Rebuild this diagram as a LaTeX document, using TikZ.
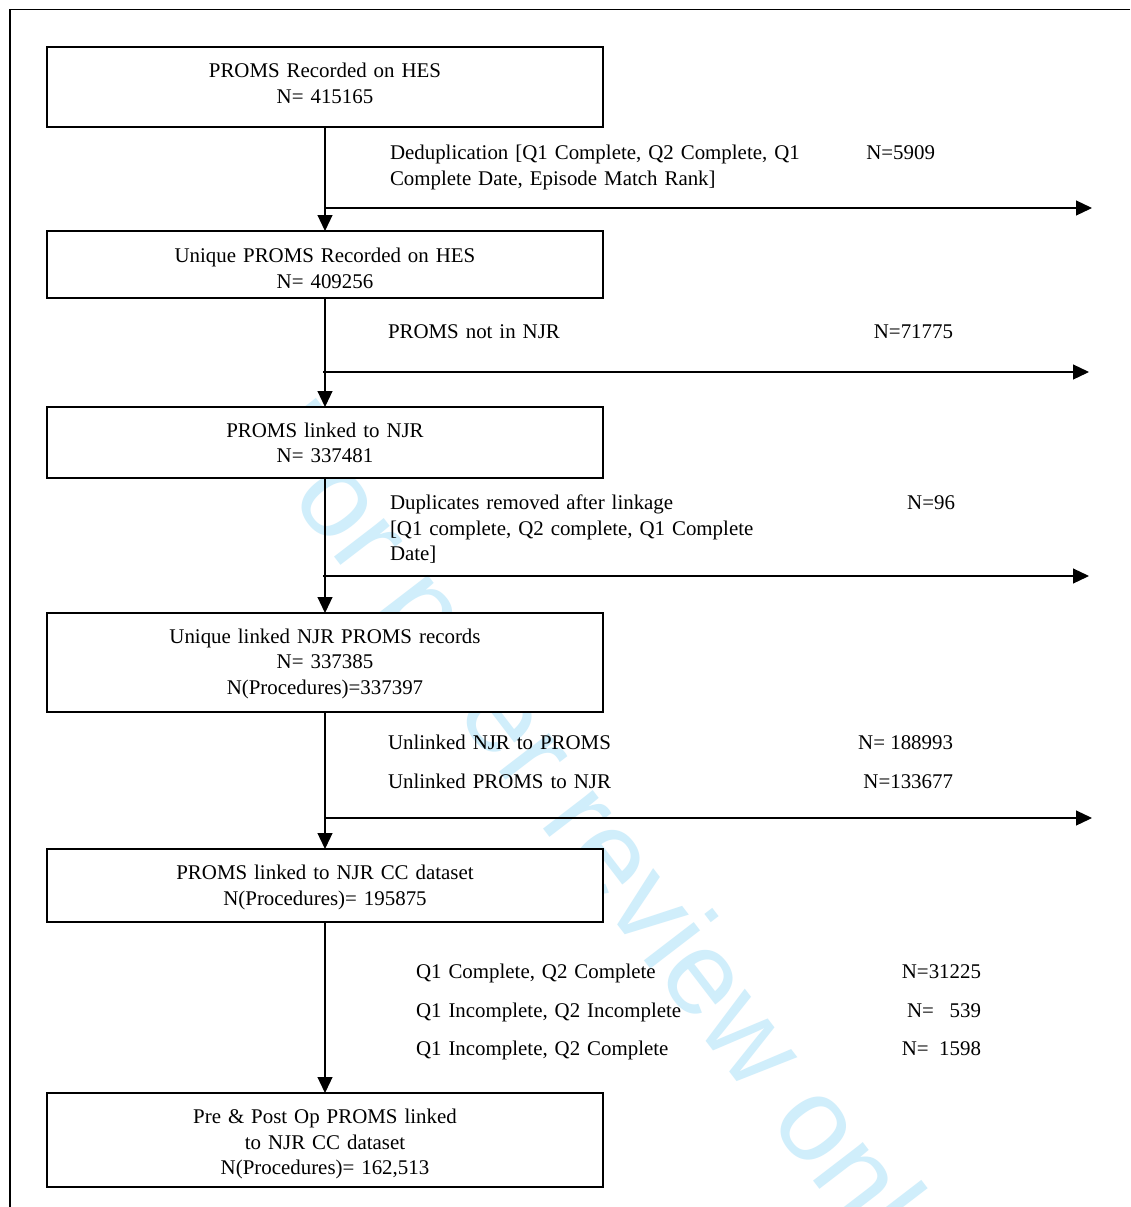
\documentclass[tikz,border=0pt]{standalone}
\usepackage{fontspec}
\setmainfont{Liberation Serif}
\newfontfamily\wmfont{Liberation Sans}
\usetikzlibrary{arrows.meta,calc}
\definecolor{wmcol}{RGB}{208,238,251}
\begin{document}
\begin{tikzpicture}[x=1pt,y=-1pt,
  every node/.style={inner sep=0pt, outer sep=0pt},
  txt/.style={font=\fontsize{20.9}{25.7}\selectfont, text=black},
  boxnode/.style={draw, line width=1.2pt, fill=white, minimum width=556pt},
  boxtext/.style={txt, text width=556pt, align=center, anchor=base},
  lbl/.style={txt, anchor=base west, align=left, text width=480pt},
  num/.style={txt, anchor=base east},
  flow/.style={line width=1.2pt, -{Triangle[length=16pt,width=15pt]}},
  watermark/.style={font=\wmfont\fontsize{119}{119}\selectfont, text=wmcol, rotate=-52.5, anchor=base west}
]
\useasboundingbox (0,0) rectangle (1130,1207);
\fill[white] (0,0) rectangle (1130,1207);

% watermark (behind everything)
\node[watermark] (wm) at (245,440) {For peer review only};

% frame
\draw[line width=1.5pt] (1130,9.5) -- (10,9.5) -- (10,1207);

% boxes
\node[boxnode, minimum height=80pt] (b1) at (325,87) {};
\node[boxnode, minimum height=67pt] (b2) at (325,264.5) {};
\node[boxnode, minimum height=71pt] (b3) at (325,442.5) {};
\node[boxnode, minimum height=99pt] (b4) at (325,662.5) {};
\node[boxnode, minimum height=73pt] (b5) at (325,885.5) {};
\node[boxnode, minimum height=94pt] (b6) at (325,1140) {};

\node[boxtext] (t1) at ([yshift=-30.5pt]b1.north) {PROMS Recorded on HES\\N= 415165};
\node[boxtext] (t2) at ([yshift=-31.5pt]b2.north) {Unique PROMS Recorded on HES\\N= 409256};
\node[boxtext] (t3) at ([yshift=-30pt]b3.north) {PROMS linked to NJR\\N= 337481};
\node[boxtext] (t4) at ([yshift=-30pt]b4.north) {Unique linked NJR PROMS records\\N= 337385\\N(Procedures)=337397};
\node[boxtext] (t5) at ([yshift=-30.5pt]b5.north) {PROMS linked to NJR CC dataset\\N(Procedures)= 195875};
\node[boxtext] (t6) at ([yshift=-30.5pt]b6.north) {Pre \& Post Op PROMS linked\\to NJR CC dataset\\N(Procedures)= 162,513};

% main flow
\draw[flow] (b1.south) -- (b2.north);
\draw[flow] (b2.south) -- (b3.north);
\draw[flow] (b3.south) -- (b4.north);
\draw[flow] (b4.south) -- (b5.north);
\draw[flow] (b5.south) -- (b6.north);

% exclusion branches
\coordinate (s1) at (325,208);  \coordinate (e1) at (1092,208);
\coordinate (s2) at (323,372);  \coordinate (e2) at (1089,372);
\coordinate (s3) at (323,576);  \coordinate (e3) at (1089,576);
\coordinate (s4) at (325,818);  \coordinate (e4) at (1092,818);
\draw[flow] (s1) -- (e1);
\draw[flow] (s2) -- (e2);
\draw[flow] (s3) -- (e3);
\draw[flow] (s4) -- (e4);

% labels
\node[lbl] (l1) at (390,159.5) {Deduplication [Q1 Complete, Q2 Complete, Q1\\Complete Date, Episode Match Rank]};
\node[num] (n1) at (935,159.5) {N=5909};

\node[lbl] (l2) at (388,338.5) {PROMS not in NJR};
\node[num] (n2) at (953,338.5) {N=71775};

\node[lbl] (l3) at (390,509.5) {Duplicates removed after linkage\\{[}Q1 complete, Q2 complete, Q1 Complete\\Date{]}};
\node[num] (n3) at (955,509.5) {N=96};

\node[lbl] (l4a) at (388,749.5) {Unlinked NJR to PROMS};
\node[num] (n4a) at (953,749.5) {N= 188993};
\node[lbl] (l4b) at (388,788.5) {Unlinked PROMS to NJR};
\node[num] (n4b) at (953,788.5) {N=133677};

\node[lbl] (l5a) at (416,978.5) {Q1 Complete, Q2 Complete};
\node[num] (n5a) at (981,978.5) {N=31225};
\node[lbl] (l5b) at (416,1017.5) {Q1 Incomplete, Q2 Incomplete};
\node[num] (n5b) at (981,1017.5) {N=~~~539};
\node[lbl] (l5c) at (416,1055.5) {Q1 Incomplete, Q2 Complete};
\node[num] (n5c) at (981,1055.5) {N=~~1598};
\end{tikzpicture}
\end{document}
